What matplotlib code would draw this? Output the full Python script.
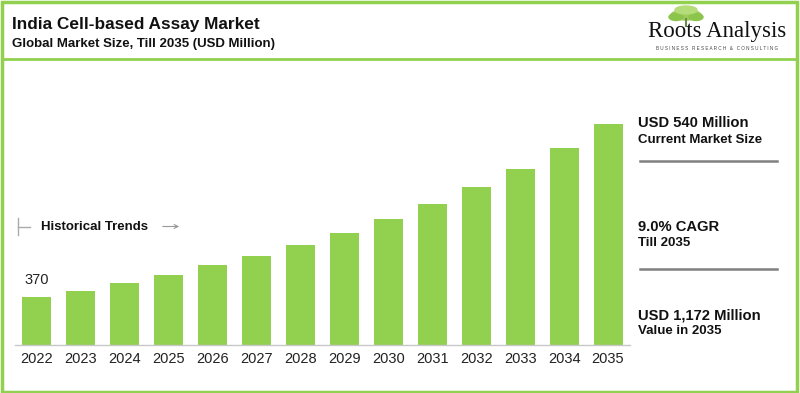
import matplotlib
matplotlib.use("Agg")
import matplotlib.pyplot as plt
from matplotlib.patches import Ellipse, Rectangle
from matplotlib.lines import Line2D

plt.rcParams['font.family'] = ['Liberation Sans', 'DejaVu Sans']

# data
years = ['2022', '2023', '2024', '2025', '2026', '2027', '2028',
         '2029', '2030', '2031', '2032', '2033', '2034', '2035']
values = [370, 398, 435, 472, 518, 560, 611, 667, 732, 801, 880, 963, 1061, 1172]
first_label = '370'

title = 'India Cell-based Assay Market'
subtitle = 'Global Market Size, Till 2035 (USD Million)'
side_head = ['USD 540 Million', '9.0% CAGR', 'USD 1,172 Million']
side_sub = ['Current Market Size', 'Till 2035', 'Value in 2035']

green = '#92D050'
W, H = 800, 393

fig = plt.figure(figsize=(8, 3.93), dpi=100)

def fx(px):
    return px / W

def fy(py):
    return 1 - py / H

# main axes: baseline at y=345, x from 15 to 630
ax = fig.add_axes([fx(15), fy(345), fx(630 - 15), (345 - 100) / H])
ax.bar(range(len(years)), values, width=0.66, color=green, zorder=2)
ax.set_xlim(-0.5, 13.5)
ax.set_ylim(147.5, 1283)
ax.set_xticks(range(len(years)))
ax.set_xticklabels(years, fontsize=10.5, color='#222222')
ax.tick_params(axis='x', length=0, pad=5)
ax.set_yticks([])
for s in ['top', 'right', 'left']:
    ax.spines[s].set_visible(False)
ax.spines['bottom'].set_color('#c8c8c8')
ax.spines['bottom'].set_linewidth(1)
ax.patch.set_alpha(0)
ax.text(0, values[0] + 45, first_label, ha='center', va='bottom',
        fontsize=10.5, color='#222222')

# figure-level decorations
# border
fig.add_artist(Rectangle((fx(1.5), fy(391.5)), fx(795), (390) / H,
                         fill=False, edgecolor=green, lw=2.5,
                         transform=fig.transFigure))
# header separator
fig.add_artist(Line2D([fx(3), fx(795)], [fy(59), fy(59)], color=green, lw=2))

fig.text(fx(12), fy(24), title, fontsize=12.4, fontweight='bold',
         color='#111111', va='center')
fig.text(fx(12), fy(44.5), subtitle, fontsize=9.5, fontweight='bold',
         color='#111111', va='center')

# logo
for (cx, cy, w, h, c) in [(686, 15, 30, 10, '#9ccc5a'), (676, 17, 14, 7, '#8cc44c'),
                          (696, 17, 14, 7, '#8cc44c'), (686, 10, 22, 8, '#b4dc78')]:
    fig.add_artist(Ellipse((fx(cx), fy(cy)), fx(w), h / H, color=c,
                           transform=fig.transFigure))
fig.add_artist(Line2D([fx(686), fx(686)], [fy(19), fy(26)], color='#6a8a4a', lw=1.5))
fig.text(fx(717.5), fy(32), 'Roots Analysis', fontsize=16.5, family='Liberation Serif',
         color='#111111', ha='center', va='center')
fig.text(fx(717), fy(48), 'B U S I N E S S   R E S E A R C H   &   C O N S U L T I N G',
         fontsize=3.3, color='#444444', ha='center', va='center')

# historical trends marker
fig.add_artist(Line2D([fx(18), fx(18)], [fy(218), fy(235)], color='#aaaaaa', lw=1))
fig.add_artist(Line2D([fx(18), fx(30)], [fy(226.5), fy(226.5)], color='#aaaaaa', lw=1))
fig.text(fx(41), fy(226.5), 'Historical Trends', fontsize=9.5, fontweight='bold',
         color='#111111', va='center')
fig.add_artist(matplotlib.patches.FancyArrowPatch(
    (fx(160), fy(226.5)), (fx(182), fy(226.5)), arrowstyle='->', mutation_scale=7,
    color='#999999', lw=0.8, transform=fig.transFigure))

# side panel
head_y = [123, 227, 315]
sub_y = [140, 243, 331]
for t, s, y1, y2 in zip(side_head, side_sub, head_y, sub_y):
    fig.text(fx(638), fy(y1), t, fontsize=10.6, fontweight='bold',
             color='#111111', va='center')
    fig.text(fx(638), fy(y2), s, fontsize=9.5, fontweight='bold',
             color='#111111', va='center')
for y in [160.5, 268.5]:
    fig.add_artist(Line2D([fx(640), fx(777)], [fy(y), fy(y)], color='#808080', lw=1.8))

fig.savefig('out.png', dpi=100, facecolor='white')
